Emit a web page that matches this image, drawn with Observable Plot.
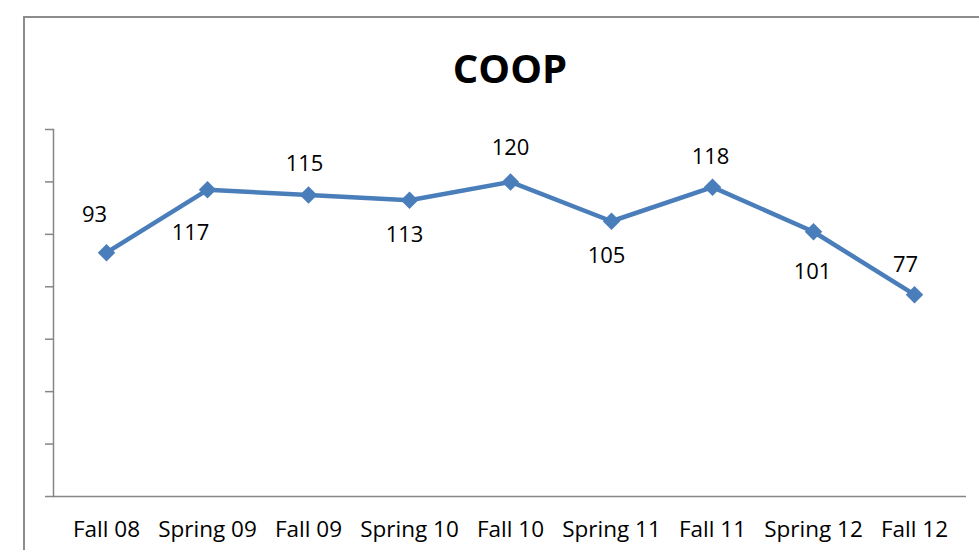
<!DOCTYPE html>
<html>
<head>
<meta charset="utf-8">
<script src="https://cdn.jsdelivr.net/npm/d3@7"></script>
<script src="https://cdn.jsdelivr.net/npm/@observablehq/plot@0.6"></script>
<style>
  html, body { margin: 0; padding: 0; background: #fff; }
  #wrap { position: relative; width: 979px; height: 550px; overflow: hidden; font-family: "Open Sans", sans-serif; }
  #border { position: absolute; left: 23px; top: 16px; width: 990px; height: 600px; border-left: 2px solid #8c8c8c; border-top: 2px solid #8c8c8c; box-sizing: border-box; }
  #title { position: absolute; left: 360px; width: 300px; top: 40px; text-align: center; font-weight: 700; font-size: 40px; line-height: 56px; color: #000; }
  #chart { position: absolute; left: 0; top: 0; }
</style>
</head>
<body>
<div id="wrap">
  <div id="border"></div>
  <div id="title">COOP</div>
  <div id="chart"></div>
</div>
<script>
const terms = ["Fall 08", "Spring 09", "Fall 09", "Spring 10", "Fall 10", "Spring 11", "Fall 11", "Spring 12", "Fall 12"];
const counts = [93, 117, 115, 113, 120, 105, 118, 101, 77];
const yTicks = [0, 20, 40, 60, 80, 100, 120, 140];

const data = terms.map((t, i) => ({term: t, value: counts[i]}));
// label placement (Excel-like auto placement)
const labelShift = [[-12, -38], [-17, 43], [-4, -31], [-5, 35], [0, -34], [-5, 35], [-2, -30], [-1, 40], [-9, -30]];
const labelData = data.map((d, i) => ({...d, dx: labelShift[i][0], dy: labelShift[i][1]}));

const blue = "#4a7ebb";
const gray = "#868686";

const plot = Plot.plot({
  width: 979,
  height: 550,
  marginLeft: 53,
  marginRight: 13,
  marginTop: 129,
  marginBottom: 54,
  style: {background: "transparent", fontFamily: "'Open Sans', sans-serif", color: "#000"},
  x: {type: "point", domain: terms, padding: 0.5, label: null},
  y: {domain: [0, 140], label: null},
  marks: [
    Plot.axisY({ticks: yTicks, tickSize: 8, tickFormat: () => "", label: null, stroke: gray, strokeWidth: 1.5}),
    Plot.frame({anchor: "left", stroke: gray, strokeWidth: 1.5}),
    Plot.ruleY([0], {stroke: gray, strokeWidth: 1.5}),
    Plot.axisX({tickSize: 0, tickPadding: 25, fontSize: 22.5, label: null, fill: "#000"}),
    Plot.line(data, {x: "term", y: "value", stroke: blue, strokeWidth: 4.5, strokeLinejoin: "round"}),
    Plot.dot(data, {x: "term", y: "value", symbol: "square", rotate: 45, r: 7, fill: blue, stroke: "none"}),
    ...labelData.map(d => Plot.text([d], {x: "term", y: "value", text: d => String(d.value), dx: d.dx, dy: d.dy, fontSize: 22, fill: "#000"}))
  ]
});
document.getElementById("chart").appendChild(plot);
</script>
</body>
</html>
